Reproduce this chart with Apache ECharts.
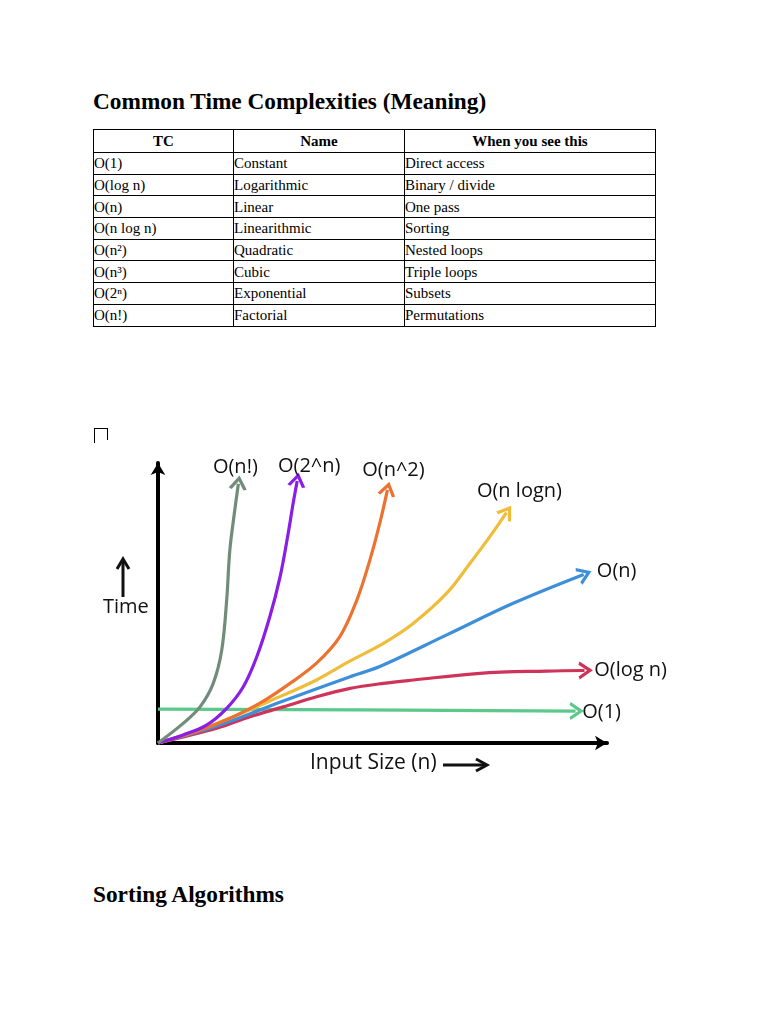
<!DOCTYPE html>
<html>
<head>
<meta charset="utf-8">
<script src="https://cdn.jsdelivr.net/npm/echarts/dist/echarts.min.js"></script>
<style>
  html, body { margin:0; padding:0; background:#fff; }
  body { width:768px; height:1024px; position:relative; overflow:hidden; font-family:"Liberation Serif", serif; color:#000; }
  h2 { position:absolute; left:93px; margin:0; font-size:23.3px; font-weight:bold; font-family:"Liberation Serif", serif; white-space:nowrap; }
  table { position:absolute; left:93px; top:129px; border-collapse:collapse; font-size:15px; font-family:"Liberation Serif", serif; }
  td, th { border:1px solid #000; padding:0; height:20.7px; line-height:20px; text-align:left; vertical-align:middle; white-space:nowrap; }
  th { text-align:center; font-weight:bold; height:22px; }
  #box { position:absolute; left:94px; top:428px; width:12px; height:14px; border:1px solid #000; border-bottom:none; }
  #chart { position:absolute; left:100px; top:440px; width:580px; height:350px; }
</style>
</head>
<body>
<h2 style="top:88px;">Common Time Complexities (Meaning)</h2>
<table id="tbl"></table>
<div id="box"></div>
<div id="chart"></div>
<h2 style="top:881px;">Sorting Algorithms</h2>
<script>
// ---- table data ----
const tableHeaders = ["TC", "Name", "When you see this"];
const tcCol = ["O(1)", "O(log n)", "O(n)", "O(n log n)", "O(n²)", "O(n³)", "O(2ⁿ)", "O(n!)"];
const nameCol = ["Constant", "Logarithmic", "Linear", "Linearithmic", "Quadratic", "Cubic", "Exponential", "Factorial"];
const seeCol = ["Direct access", "Binary / divide", "One pass", "Sorting", "Nested loops", "Triple loops", "Subsets", "Permutations"];

// ---- chart data (x: input size 0..100, y: time 0..100) ----
const seriesNames = ["O(1)", "O(log n)", "O(n)", "O(n logn)", "O(n^2)", "O(2^n)", "O(n!)"];
const constantPts = [[0, 12.1], [45, 11.8], [93, 11.4]];
const logPts = [[0, 0], [13.1, 5.25], [20.5, 9.4], [27.9, 12.9], [35.3, 16.5], [42.8, 19.5], [50.2, 21.3], [56.9, 22.5], [71.7, 24.9], [86.6, 25.7], [95.0, 25.9]];
const linearPts = [[0, 0], [13.1, 6.1], [27.9, 15.0], [42.8, 23.7], [49.4, 27.3], [64.3, 38.6], [79.1, 49.9], [94.8, 60.2]];
const nlognPts = [[0, 0], [13.1, 7.0], [27.9, 17.1], [35.3, 22.5], [42.8, 29.3], [50.2, 35.6], [56.9, 42.8], [64.3, 53.5], [69.5, 64.2], [73.9, 73.7], [77.6, 82.3]];
const quadPts = [[0, 0], [9.4, 4.6], [16.8, 9.4], [22.7, 14.2], [29.4, 21.3], [35.3, 28.5], [40.5, 38.0], [44.3, 51.1], [47.2, 65.4], [49.4, 78.5], [51.1, 90.4]];
const expPts = [[0, 0], [5.6, 2.9], [10.8, 6.4], [15.3, 12.4], [19.0, 20.1], [22.0, 30.8], [24.9, 45.1], [27.2, 59.4], [29.0, 74.9], [30.1, 85.6], [31.0, 93.6]];
const factPts = [[0, 0], [5.6, 7.0], [9.4, 13.0], [12.3, 21.3], [14.2, 33.2], [15.3, 51.1], [16.0, 68.9], [17.1, 83.2], [17.9, 92.6]];
const seriesData = [constantPts, logPts, linearPts, nlognPts, quadPts, expPts, factPts];
const seriesColors = ["#5cc98b", "#cf3358", "#3d8fd9", "#f0bd3a", "#ec7230", "#8a1de6", "#728c7a"];
const labelOffsets = [[26, 1], [46, 0], [33, -3], [13, -21], [6, -20], [12, -15], [-3, -16]];
const xAxisTitle = "Input Size (n)";
const yAxisTitle = "Time";

// build table
(function () {
  const t = document.getElementById('tbl');
  const widths = [139, 170, 250];
  let h = '<tr>' + tableHeaders.map((c, i) => '<th style="width:' + widths[i] + 'px">' + c + '</th>').join('') + '</tr>';
  for (let i = 0; i < tcCol.length; i++) {
    h += '<tr><td>' + tcCol[i] + '</td><td>' + nameCol[i] + '</td><td>' + seeCol[i] + '</td></tr>';
  }
  t.innerHTML = h;
})();

const chart = echarts.init(document.getElementById('chart'));
const FONT = '"Open Sans", sans-serif';
const chevron = 'path://M0,12 L8,0 L16,12';

function buildSeries(rotations) {
  return seriesData.map((pts, si) => {
    const data = pts.map((p, i) => {
      if (i < pts.length - 1) return { value: p, symbol: 'none' };
      return {
        value: p,
        symbol: chevron,
        symbolSize: [15, 11],
        symbolRotate: rotations ? rotations[si] : 0,
        itemStyle: { color: 'rgba(0,0,0,0)', borderColor: seriesColors[si], borderWidth: 3 },
        label: {
          show: true, position: 'inside', offset: labelOffsets[si],
          formatter: seriesNames[si], color: '#111', fontSize: 20, fontFamily: FONT
        }
      };
    });
    return {
      name: seriesNames[si], type: 'line', smooth: si === 0 ? false : 0.35,
      showSymbol: true, symbol: 'none', data: data, z: 3,
      lineStyle: { color: seriesColors[si], width: 3.2 },
      itemStyle: { color: seriesColors[si] },
      emphasis: { disabled: true }
    };
  });
}

const baseOption = {
  animation: false,
  backgroundColor: '#fff',
  grid: { left: 58, right: 73, top: 23, bottom: 47 },
  xAxis: {
    type: 'value', min: 0, max: 100,
    axisLine: { show: true, symbol: ['none', 'arrow'], symbolSize: [11, 12], lineStyle: { color: '#000', width: 4 } },
    axisTick: { show: false }, axisLabel: { show: false }, splitLine: { show: false }
  },
  yAxis: {
    type: 'value', min: 0, max: 100,
    axisLine: { show: true, symbol: ['none', 'arrow'], symbolSize: [11, 12], lineStyle: { color: '#000', width: 4 } },
    axisTick: { show: false }, axisLabel: { show: false }, splitLine: { show: false }
  },
  graphic: [
    { type: 'text', left: 3, top: 157, style: { text: yAxisTitle, fontSize: 20, fontFamily: FONT, fill: '#111' } },
    { type: 'line', shape: { x1: 23, y1: 157, x2: 23, y2: 121 }, style: { stroke: '#111', lineWidth: 3 } },
    { type: 'polyline', shape: { points: [[17, 129], [23, 119], [29, 129]] }, style: { stroke: '#111', lineWidth: 3, fill: null } },
    { type: 'text', left: 210, top: 313, style: { text: xAxisTitle, fontSize: 21, fontFamily: FONT, fill: '#111' } },
    { type: 'line', shape: { x1: 343, y1: 325, x2: 386, y2: 325 }, style: { stroke: '#111', lineWidth: 3 } },
    { type: 'polyline', shape: { points: [[376, 319], [387, 325], [376, 331]] }, style: { stroke: '#111', lineWidth: 3, fill: null } }
  ],
  series: buildSeries(null)
};
chart.setOption(baseOption);

// orient the arrow heads along the end of each curve, using the chart's own scales
const rotations = seriesData.map(pts => {
  const a = chart.convertToPixel({ gridIndex: 0 }, pts[pts.length - 2]);
  const b = chart.convertToPixel({ gridIndex: 0 }, pts[pts.length - 1]);
  const dx = b[0] - a[0], dy = b[1] - a[1];
  return Math.atan2(-dx, -dy) * 180 / Math.PI;
});
chart.setOption({ series: buildSeries(rotations) });
</script>
</body>
</html>
